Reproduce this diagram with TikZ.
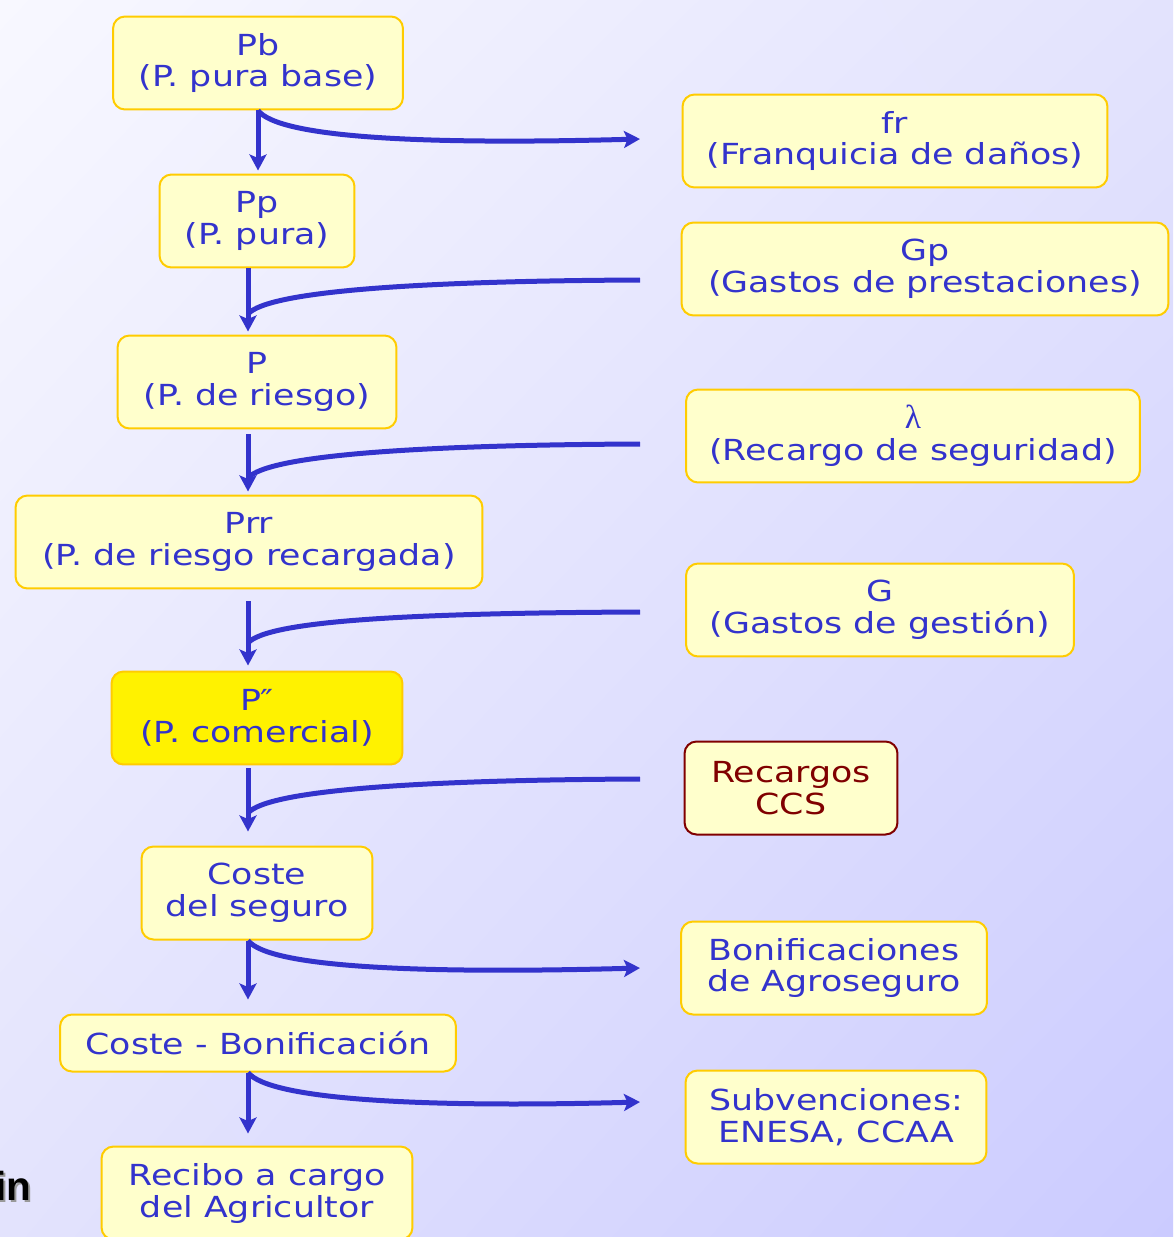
\documentclass[tikz,border=0pt]{standalone}
\usepackage{fontspec}
\setmainfont{DejaVu Sans}[FakeStretch=1.2]
\newfontfamily\infont{Liberation Sans}
\newfontfamily\lamfont{Liberation Serif}
\usetikzlibrary{arrows.meta,calc,shadings}
\definecolor{bgtop}{HTML}{F8F8FF}
\definecolor{bgmid}{HTML}{E3E3FD}
\definecolor{bgbot}{HTML}{CBCBFF}
\definecolor{flowblue}{HTML}{3333CC}
\definecolor{boxfill}{HTML}{FFFFCC}
\definecolor{boxline}{HTML}{FFCC00}
\definecolor{ccsred}{HTML}{800000}
\tikzset{
	prima/.style={draw=boxline, fill=boxfill, line width=0.04cm, rounded corners=0.24cm,
		minimum height=1.86cm, inner sep=0pt, align=center, text=flowblue,
		font=\fontsize{16.5}{18.2}\selectfont},
	feed/.style={draw=flowblue, line width=0.1cm},
	flow/.style={feed, -{Stealth[length=0.32cm,width=0.34cm,inset=0.07cm]}},
	inlabel/.style={inner sep=0pt, anchor=base east, font=\infont\bfseries\fontsize{23}{23}\selectfont},
}

\begin{document}
\begin{tikzpicture}[x=0.02cm, y=-0.02cm]
			%%%%% START %%%%%
			\clip (0, 0) rectangle (1173, 1237);
			\shade[upper left=bgtop, upper right=bgmid, lower left=bgmid, lower right=bgbot] (0, 0) rectangle (1173, 1237);
			
			% primas, left column
			\node[prima, minimum width=5.8cm] (pb) at (258, 63) {Pb\\(P. pura base)};
			\node[prima, minimum width=3.9cm] (pp) at (257, 221) {Pp\\(P. pura)};
			\node[prima, minimum width=5.58cm] (p) at (257, 382) {P\\(P. de riesgo)};
			\node[prima, minimum width=9.34cm] (prr) at (249, 542) {Prr\\(P. de riesgo recargada)};
			\node[prima, minimum width=5.82cm, fill=yellow] (pcom) at (257, 718) {P″\\(P. comercial)};
			\node[prima, minimum width=4.62cm] (coste) at (257, 893) {Coste\\del seguro};
			\node[prima, minimum width=7.92cm, minimum height=1.14cm] (costebon) at (258, 1043) {Coste - Bonificación};
			\node[prima, minimum width=6.22cm] (recibo) at (257, 1193) {Recibo a cargo\\del Agricultor};
			
			% recargos y descuentos, right column
			\node[prima, minimum width=8.5cm] (fr) at (895, 141) {fr\\(Franquicia de daños)};
			\node[prima, minimum width=9.74cm] (gp) at (925, 269) {Gp\\(Gastos de prestaciones)};
			\node[prima, minimum width=9.08cm] (lam) at (913, 436) {{\lamfont\fontsize{19}{18.2}\selectfont λ}\\(Recargo de seguridad)};
			\node[prima, minimum width=7.76cm] (g) at (880, 610) {G\\(Gastos de gestión)};
			\node[prima, minimum width=4.26cm, draw=ccsred, text=ccsred] (ccs) at (791, 788) {Recargos\\CCS};
			\node[prima, minimum width=6.12cm] (bon) at (834, 968) {Bonificaciones\\de Agroseguro};
			\node[prima, minimum width=6.02cm] (sub) at (836, 1117) {Subvenciones:\\ENESA, CCAA};
			
			\node[inlabel, text=black!40] (inshadow) at (34, 1202) {in};
			\node[inlabel, text=black] (inword) at (32, 1200) {in};
			
			% ends of the side connectors
			\coordinate (axis) at (248, 0);
			\coordinate (frend) at (640, 139);
			\coordinate (gpend) at (640, 280);
			\coordinate (lamend) at (640, 444);
			\coordinate (gend) at (640, 612);
			\coordinate (ccsend) at (640, 779);
			\coordinate (bonend) at (640, 968);
			\coordinate (subend) at (640, 1102);
			\coordinate (gpjoin) at (248, 314);
			\coordinate (lamjoin) at (248, 478);
			\coordinate (gjoin) at (248, 643);
			\coordinate (ccsjoin) at (248, 813);
			
			% main chain
			\draw[flow, shorten >=0.06cm] (pb.south) -- (pb.south |- pp.north);
			\draw[flow, shorten >=0.06cm] (pp.south -| axis) -- (p.north -| axis);
			\draw[flow, shorten <=0.1cm, shorten >=0.06cm] (p.south -| axis) -- (prr.north -| axis);
			\draw[flow, shorten <=0.24cm, shorten >=0.1cm] (prr.south -| axis) -- (pcom.north -| axis);
			\draw[flow, shorten <=0.06cm, shorten >=0.28cm] (pcom.south -| axis) -- (coste.north -| axis);
			\draw[flow, shorten >=0.28cm] (coste.south -| axis) -- (costebon.north -| axis);
			\draw[flow, shorten >=0.24cm] (costebon.south -| axis) -- (recibo.north -| axis);
			
			% side connectors
			\draw[flow] (pb.south) .. controls +(21, 27) and +(-220, 6) .. (frend);
			\draw[feed] (gpend) .. controls +(-220, 1) and +(20, -23) .. (gpjoin);
			\draw[feed] (lamend) .. controls +(-220, 1) and +(20, -23) .. (lamjoin);
			\draw[feed] (gend) .. controls +(-220, 1) and +(20, -23) .. (gjoin);
			\draw[feed] (ccsend) .. controls +(-220, 1) and +(20, -23) .. (ccsjoin);
			\draw[flow] (coste.south -| axis) .. controls +(21, 27) and +(-220, 6) .. (bonend);
			\draw[flow] (costebon.south -| axis) .. controls +(21, 27) and +(-220, 6) .. (subend);
			%%%%% END %%%%%
\end{tikzpicture}
\end{document}
